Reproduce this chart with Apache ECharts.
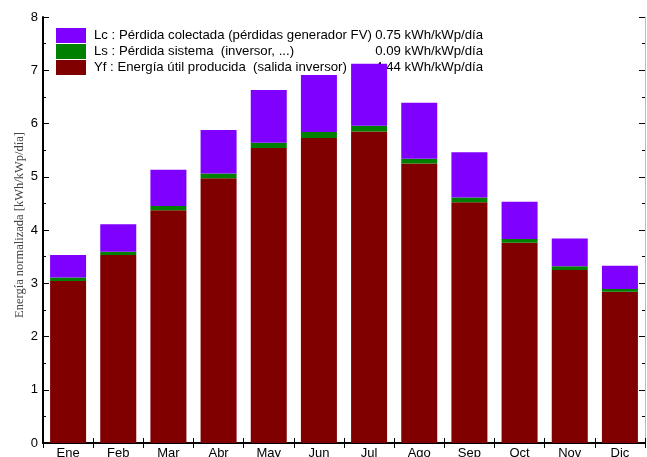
<!DOCTYPE html>
<html><head><meta charset="utf-8">
<script src="https://cdn.jsdelivr.net/npm/echarts@6/dist/echarts.min.js"></script>
<style>html,body{margin:0;padding:0;background:#fff}#c{width:647px;height:457px}</style>
</head><body><div id="c"></div>
<script>
const months = ['Ene','Feb','Mar','Abr','May','Jun','Jul','Ago','Sep','Oct','Nov','Dic'];
const yf = [3.04,3.53,4.37,4.97,5.54,5.73,5.85,5.25,4.52,3.76,3.25,2.84];
const ls = [0.07,0.06,0.08,0.09,0.10,0.11,0.11,0.09,0.09,0.07,0.07,0.05];
const lc = [0.42,0.52,0.68,0.82,0.99,1.07,1.16,1.05,0.85,0.70,0.52,0.44];
const legendLabels = {
  'Lc': ['Lc : Pérdida colectada (pérdidas generador FV)', '0.75 kWh/kWp/día'],
  'Ls': ['Ls : Pérdida sistema  (inversor, ...)', '0.09 kWh/kWp/día'],
  'Yf': ['Yf : Energía útil producida  (salida inversor)', '4.44 kWh/kWp/día']
};
const yTicks = [0,1,2,3,4,5,6,7,8];

const chart = echarts.init(document.getElementById('c'), null, {renderer:'canvas'});
const F = 'Liberation Sans, Arial, sans-serif';
chart.setOption({
  animation:false,
  backgroundColor:'#fff',
  grid:{left:43,right:2,top:17,bottom:14,containLabel:false,outerBoundsMode:'none'},
  legend:{
    show:true, z:1, orient:'vertical', left:56, top:28, padding:0,
    icon:'rect', itemWidth:30, itemHeight:15, itemGap:1,
    data:['Lc','Ls','Yf'],
    formatter:function(n){ const l = legendLabels[n]; return '{a|'+l[0]+'}{b|'+l[1]+'}'; },
    textStyle:{fontFamily:F,fontSize:13.2,color:'#000',
      rich:{a:{fontFamily:F,fontSize:13.2,width:279,padding:[0,0,0,3],lineHeight:15,color:'#000'},
            b:{fontFamily:F,fontSize:13.2,width:110,align:'right',lineHeight:15,color:'#000'}}}
  },
  xAxis:[
    {type:'category',data:months,position:'bottom',
     axisLine:{lineStyle:{color:'#000',width:2}},
     axisTick:{show:true,inside:true,length:5,alignWithLabel:false,lineStyle:{color:'#000'}},
     axisLabel:{fontFamily:F,fontSize:13,color:'#000',margin:4},
     splitLine:{show:false}},
    {type:'category',data:months,position:'top',
     axisLine:{lineStyle:{color:'#000',width:1.5}},
     axisTick:{show:true,inside:true,length:5,lineStyle:{color:'#000'}},
     axisLabel:{show:false},splitLine:{show:false}}
  ],
  yAxis:[
    {type:'value',min:yTicks[0],max:yTicks[yTicks.length-1],interval:1,position:'left',
     name:'Energía normalizada [kWh/kWp/día]',nameLocation:'middle',nameGap:17,nameRotate:90,
     nameMoveOverlap:false,
     nameTextStyle:{fontFamily:'Liberation Serif, Times New Roman, serif',fontSize:12.5,color:'#444',padding:[0,0,0,10]},
     axisLine:{show:true,lineStyle:{color:'#000',width:2}},
     axisTick:{show:true,inside:true,length:6,lineStyle:{color:'#000'}},
     minorTick:{show:true,splitNumber:2,length:3,lineStyle:{color:'#000'}},
     axisLabel:{fontFamily:F,fontSize:13,color:'#000',margin:5},
     splitLine:{show:false}},
    {type:'value',min:yTicks[0],max:yTicks[yTicks.length-1],interval:1,position:'right',
     axisLine:{show:true,lineStyle:{color:'#bbb',width:1}},
     axisTick:{show:true,inside:true,length:6,lineStyle:{color:'#000'}},
     minorTick:{show:true,splitNumber:2,length:3,lineStyle:{color:'#000'}},
     axisLabel:{show:false},splitLine:{show:false}}
  ],
  series:[
    {name:'Yf',type:'bar',stack:'s',data:yf,barWidth:36,itemStyle:{color:'#800000'},z:2},
    {name:'Ls',type:'bar',stack:'s',data:ls,barWidth:36,itemStyle:{color:'#008000'},z:2},
    {name:'Lc',type:'bar',stack:'s',data:lc,barWidth:36,itemStyle:{color:'#8000ff'},z:2}
  ]
});
</script></body></html>
